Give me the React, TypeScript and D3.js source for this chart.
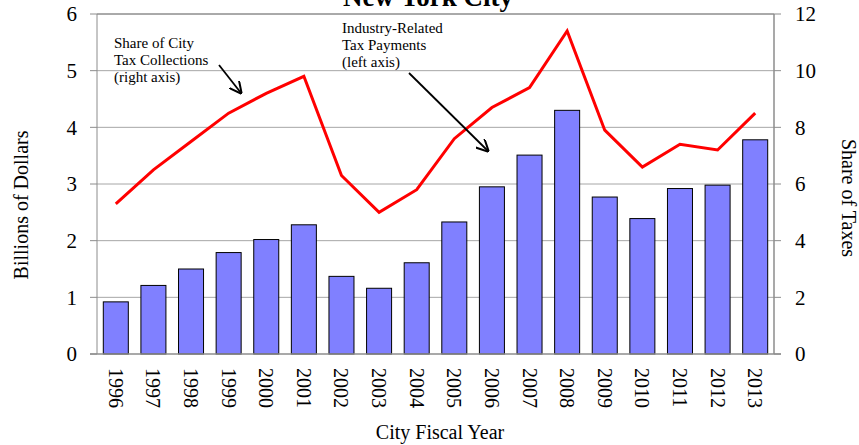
import * as d3 from "d3";

const years = ["1996","1997","1998","1999","2000","2001","2002","2003","2004","2005","2006","2007","2008","2009","2010","2011","2012","2013"];
// Industry-related tax payments, billions of dollars (left axis)
const payments = [0.92,1.21,1.5,1.79,2.02,2.28,1.37,1.16,1.61,2.33,2.95,3.51,4.3,2.77,2.39,2.92,2.98,3.78];
// Share of city tax collections, percent (right axis)
const share = [5.3,6.5,7.5,8.5,9.2,9.8,6.3,5.0,5.8,7.6,8.7,9.4,11.4,7.9,6.6,7.4,7.2,8.5];
const leftTicks = [0,1,2,3,4,5,6];
const rightTicks = [0,2,4,6,8,10,12];

const W = 859;
const H = 445;
const M = { top: 14, right: 85, bottom: 91, left: 97 };
const FONT = "'Liberation Serif', 'Times New Roman', serif";

export default function App() {
  const x = d3.scaleBand().domain(years).range([M.left, W - M.right]).paddingInner(0.335).paddingOuter(0.1675);
  const yL = d3.scaleLinear().domain([0, 6]).range([H - M.bottom, M.top]);
  const yR = d3.scaleLinear().domain([0, 12]).range([H - M.bottom, M.top]);
  const cx = (d: string) => (x(d) as number) + x.bandwidth() / 2;
  const line = d3.line<number>().x((_, i) => cx(years[i])).y((d) => yR(d));
  const x0 = M.left, x1 = W - M.right, yb = H - M.bottom, yt = M.top;

  return (
    <svg width={W} height={H} style={{ position: "absolute", left: 0, top: 0 }} fontFamily={FONT}>
      <defs>
        <marker id="ah" viewBox="0 0 10 10" refX="9" refY="5" markerWidth="7" markerHeight="7" orient="auto">
          <path d="M0,0 L10,5 L0,10" fill="none" stroke="#000" strokeWidth="1.6" />
        </marker>
      </defs>
      {leftTicks.slice(1, -1).map((t) => (
        <line key={t} x1={x0} x2={x1} y1={yL(t)} y2={yL(t)} stroke="#a6a6a6" strokeWidth={1} />
      ))}
      <line x1={x0} x2={x1} y1={yt} y2={yt} stroke="#555" strokeWidth={1} />
      {payments.map((v, i) => (
        <rect key={years[i]} x={x(years[i])} y={yL(v)} width={x.bandwidth()} height={yb - yL(v)} fill="#8080ff" stroke="#000" strokeWidth={1} />
      ))}
      <path d={line(share) || ""} fill="none" stroke="#ff0000" strokeWidth={3} strokeLinejoin="miter" />
      {/* axes */}
      <line x1={x0} x2={x0} y1={yt} y2={yb} stroke="#8c8c8c" />
      <line x1={x1} x2={x1} y1={yt} y2={yb} stroke="#8c8c8c" strokeWidth={1.5} />
      <line x1={x0 - 7} x2={x1 + 7} y1={yb} y2={yb} stroke="#8c8c8c" strokeWidth={1.5} />
      {leftTicks.map((t) => (
        <g key={"l" + t}>
          <line x1={x0 - 7} x2={x0} y1={yL(t)} y2={yL(t)} stroke="#8c8c8c" />
          <text x={x0 - 20} y={yL(t)} dy="0.35em" textAnchor="end" fontSize={21}>{t}</text>
        </g>
      ))}
      {rightTicks.map((t) => (
        <g key={"r" + t}>
          <line x1={x1} x2={x1 + 7} y1={yR(t)} y2={yR(t)} stroke="#8c8c8c" />
          <text x={x1 + 21} y={yR(t)} dy="0.35em" textAnchor="start" fontSize={21}>{t}</text>
        </g>
      ))}
      {years.map((d) => (
        <text key={d} transform={`translate(${cx(d)},${yb + 14}) rotate(90)`} dy="0.35em" fontSize={20}>{d}</text>
      ))}
      <text x={440} y={439} textAnchor="middle" fontSize={20}>City Fiscal Year</text>
      <text transform={`translate(28,205) rotate(-90)`} textAnchor="middle" fontSize={20}>Billions of Dollars</text>
      <text transform={`translate(842,198) rotate(90)`} textAnchor="middle" fontSize={20}>Share of Taxes</text>
      <text x={428} y={6} textAnchor="middle" fontSize={27} fontWeight="bold">New York City</text>
      {/* annotations */}
      <text x={114} y={48} fontSize={15}>
        <tspan x={114}>Share of City</tspan>
        <tspan x={114} dy={17}>Tax Collections</tspan>
        <tspan x={114} dy={17}>(right axis)</tspan>
      </text>
      <line x1={219} y1={65} x2={241} y2={93} stroke="#000" strokeWidth={1.8} markerEnd="url(#ah)" />
      <text x={342} y={33} fontSize={15}>
        <tspan x={342}>Industry-Related</tspan>
        <tspan x={342} dy={17}>Tax Payments</tspan>
        <tspan x={342} dy={17}>(left axis)</tspan>
      </text>
      <line x1={409} y1={73} x2={488} y2={151} stroke="#000" strokeWidth={1.8} markerEnd="url(#ah)" />
    </svg>
  );
}
